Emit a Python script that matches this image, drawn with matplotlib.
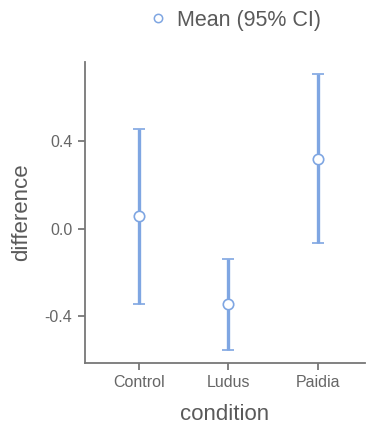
import matplotlib.pyplot as plt
from matplotlib.lines import Line2D

# Dados
condicoes = ["Control", "Ludus", "Paidia"]
medias = [0.059, -0.343, 0.32]
ic_inf = [-0.343, -0.553, -0.064]
ic_sup = [0.457, -0.137, 0.709]

cor = "#7fa6e2"
cinza_texto = "#5a5a5a"
cinza_eixo = "#777777"

plt.rcParams["font.family"] = ["Liberation Sans", "DejaVu Sans"]

fig = plt.figure(figsize=(3.67, 4.25), dpi=100)
ax = fig.add_axes([0.2316, 0.1459, 0.763, 0.708])

x = list(range(len(condicoes)))
erro_inf = [m - lo for m, lo in zip(medias, ic_inf)]
erro_sup = [hi - m for m, hi in zip(medias, ic_sup)]

ax.errorbar(x, medias, yerr=[erro_inf, erro_sup], fmt="o", color=cor,
            ecolor=cor, elinewidth=2.4, capsize=4.5, capthick=2.4,
            markersize=7.5, markerfacecolor="white", markeredgecolor=cor,
            markeredgewidth=1.2, zorder=3)

ax.set_xlim(-0.6, 2.525)
ax.set_ylim(-0.613, 0.763)
ax.set_xticks(x)
ax.set_xticklabels(condicoes)
ax.set_yticks([-0.4, 0.0, 0.4])
ax.set_yticklabels(["-0.4", "0.0", "0.4"])

for lado in ["top", "right"]:
    ax.spines[lado].set_visible(False)
for lado in ["left", "bottom"]:
    ax.spines[lado].set_color(cinza_eixo)
    ax.spines[lado].set_linewidth(1.3)

ax.tick_params(axis="both", colors=cinza_eixo, labelcolor="#666666",
               labelsize=11.5, length=5, width=1.3, direction="out")
ax.tick_params(axis="y", pad=4)

ax.set_xlabel("condition", fontsize=16, color=cinza_texto, labelpad=10)
ax.set_ylabel("difference", fontsize=16, color=cinza_texto, labelpad=9)

marcador = Line2D([], [], marker="o", linestyle="none", markersize=6,
                  markerfacecolor="white", markeredgecolor=cor,
                  markeredgewidth=1.1)
fig.legend([marcador], ["Mean (95% CI)"], loc="center",
           bbox_to_anchor=(0.635, 0.952), frameon=False, fontsize=15.5,
           labelcolor=cinza_texto, handletextpad=0.3, handlelength=1.2)

fig.savefig("out.png", dpi=100)
